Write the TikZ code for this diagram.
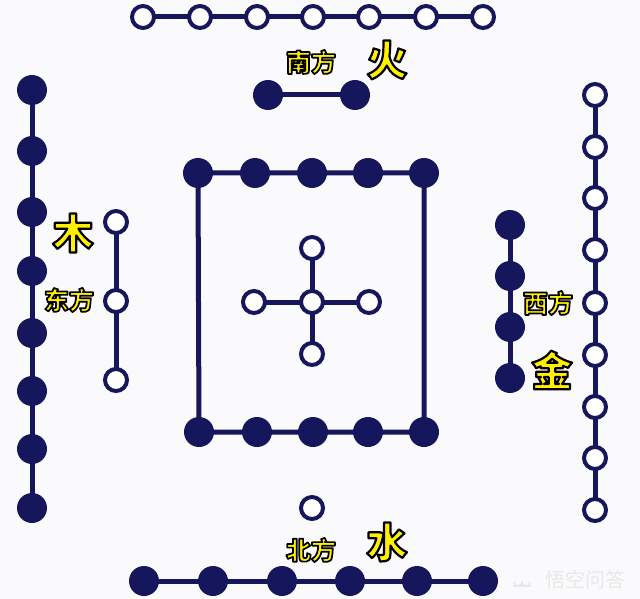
\documentclass[tikz,border=0pt]{standalone}
\usepackage{fontspec}
\newfontfamily\cjk{Noto Sans CJK SC}
\usetikzlibrary{backgrounds}
\definecolor{navy}{HTML}{16165C}
\definecolor{gold}{HTML}{FFF000}
\definecolor{bgc}{HTML}{FAFAFD}
\newcommand\outl[2]{\special{pdf:literal direct 0 0 0 RG 2 Tr #1 w 1 j}#2\special{pdf:literal direct 0 Tr}}
\tikzset{
  full/.style={circle, fill=navy, minimum size=30pt, inner sep=0pt},
  hollow/.style={circle, draw=navy, line width=4pt, fill=white, minimum size=22pt, inner sep=0pt},
  link/.style={draw=navy, line width=5pt},
  lblS/.style={font=\cjk\bfseries\fontsize{25}{25}\selectfont, text=gold, inner sep=0pt},
  lblL/.style={font=\cjk\bfseries\fontsize{41}{41}\selectfont, text=gold, inner sep=0pt},
  wmark/.style={font=\cjk\fontsize{20}{20}\selectfont, text=gray!18, inner sep=0pt},
  wicon/.style={draw=gray!18, line width=1.6pt},
}
\begin{document}
\begin{tikzpicture}[x=1pt,y=-1pt]
\useasboundingbox (0,0) rectangle (640,599);
% top row: 7 hollow
\foreach \x [count=\i] in {143,200,257,313,369,426,483}
  \node[hollow] (t\i) at (\x,17) {};
% south pair: 2 filled
\node[full] (s1) at (268,95) {};
\node[full] (s2) at (355,95) {};
% left outer: 8 filled
\foreach \y [count=\i] in {90,151,212,271,333,391,449,508}
  \node[full] (l\i) at (32,\y) {};
% left inner: 3 hollow
\foreach \y [count=\i] in {222,301,380}
  \node[hollow] (m\i) at (116,\y) {};
% right outer: 9 hollow
\foreach \y [count=\i] in {95,147,198,250,303,355,407,458,510}
  \node[hollow] (r\i) at (595,\y) {};
% right inner: 4 filled
\foreach \y [count=\i] in {225,276,327,378}
  \node[full] (q\i) at (510,\y) {};
% bottom: 1 hollow, 6 filled
\node[hollow] (b0) at (312,508) {};
\foreach \x [count=\i] in {144,213,282,350,417,483}
  \node[full] (b\i) at (\x,581) {};
% centre square: 5 + 5 filled
\foreach \x [count=\i] in {198,255,312,368,424}
  \node[full] (a\i) at (\x,173) {};
\foreach \x [count=\i] in {199,257,313,368,424}
  \node[full] (c\i) at (\x,432) {};
% centre cross: 5 hollow
\node[hollow] (x0) at (312,302) {};
\node[hollow] (xn) at (312,248) {};
\node[hollow] (xs) at (312,354) {};
\node[hollow] (xw) at (254,302) {};
\node[hollow] (xe) at (369,302) {};
% connectors
\begin{scope}[on background layer]
  \fill[bgc] (0,0) rectangle (640,599);
  \draw[link] (t1.center) -- (t7.center);
  \draw[link] (s1.center) -- (s2.center);
  \draw[link] (l1.center) -- (l8.center);
  \draw[link] (m1.center) -- (m3.center);
  \draw[link] (r1.center) -- (r9.center);
  \draw[link] (q1.center) -- (q4.center);
  \draw[link] (b1.center) -- (b6.center);
  \draw[link] (a1.center) -- (a5.center) -- (c5.center) -- (c1.center) -- cycle;
  \draw[link] (xn.center) -- (xs.center);
  \draw[link] (xw.center) -- (xe.center);
\end{scope}
% labels
\node[lblS] (nanfang) at (311,62) {\outl{1.7}{南方}};
\node[lblL] (huo) at (387,60) {\outl{2.2}{火}};
\node[lblL] (mu) at (73,233) {\outl{2.2}{木}};
\node[lblS] (dongfang) at (69,300) {\outl{1.7}{东方}};
\node[lblS] (xifang) at (548,303) {\outl{1.7}{西方}};
\node[lblL] (jin) at (552,370) {\outl{2.2}{金}};
\node[lblS] (beifang) at (311,550) {\outl{1.7}{北方}};
\node[lblL] (shui) at (387,542) {\outl{2.2}{水}};
% watermark
\node[wmark] (wm) at (585,580) {悟空问答};
\draw[wicon] (514,582) arc[start angle=180, end angle=0, radius=4] arc[start angle=180, end angle=0, radius=4];
\draw[wicon] (513,586) -- (531,586);
\end{tikzpicture}
\end{document}
